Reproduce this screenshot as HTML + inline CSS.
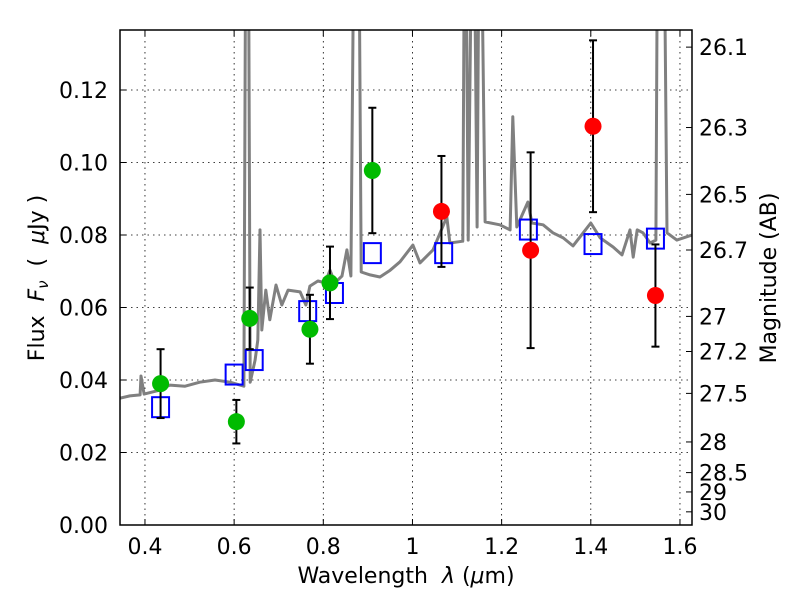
<!DOCTYPE html>
<html><head><meta charset="utf-8"><style>
body{margin:0;background:#fff}
</style></head><body>
<svg id="chart" width="800" height="600" xmlns="http://www.w3.org/2000/svg" style="position:absolute;left:0;top:0">
<defs><clipPath id="clip"><rect x="120" y="30" width="572" height="495"/></clipPath></defs>
<g id="grid"></g>
<g id="spec" clip-path="url(#clip)"></g>
<g id="marks" clip-path="url(#clip)"></g>
<g id="axes"></g>
<text x="406" y="583" text-anchor="middle" xml:space="preserve" style="font-family:'DejaVu Sans',sans-serif;font-size:22px;white-space:pre">Wavelength  <tspan font-style="italic">λ</tspan> (<tspan font-style="italic">μ</tspan>m)</text>
<text transform="translate(44,278) rotate(-90)" text-anchor="middle" xml:space="preserve" style="font-family:'DejaVu Sans',sans-serif;font-size:22px;white-space:pre">Flux  <tspan font-style="italic">F</tspan><tspan font-style="italic" style="font-size:15px" dy="4">ν</tspan><tspan dy="-4">  (  </tspan><tspan font-style="italic">μ</tspan>Jy )</text>
<text transform="translate(776,278) rotate(-90)" text-anchor="middle" style="font-family:'DejaVu Sans',sans-serif;font-size:22px">Magnitude (AB)</text>
</svg>
<script>
const specWl=[0.344,0.366,0.389,0.391,0.398,0.434,0.456,0.490,0.523,0.557,0.591,0.622,0.627,0.631,0.636,0.647,0.653,0.658,0.662,0.671,0.680,0.694,0.707,0.721,0.748,0.761,0.770,0.788,0.804,0.815,0.826,0.842,0.853,0.862,0.871,0.878,0.885,0.905,0.927,0.950,0.972,1.001,1.017,1.046,1.077,1.084,1.113,1.118,1.125,1.136,1.145,1.151,1.163,1.196,1.219,1.225,1.234,1.259,1.268,1.293,1.315,1.338,1.360,1.383,1.400,1.421,1.450,1.470,1.488,1.495,1.504,1.517,1.533,1.546,1.551,1.562,1.571,1.593,1.627];
const specFlux=[0.0350,0.0356,0.0359,0.0411,0.0361,0.0372,0.0386,0.0383,0.0394,0.0400,0.0394,0.0383,0.2,0.2,0.0394,0.0455,0.051,0.0814,0.0538,0.0648,0.0566,0.0662,0.0607,0.0648,0.0643,0.0607,0.0659,0.0673,0.0668,0.0703,0.0668,0.0687,0.0759,0.0687,0.2,0.2,0.0698,0.0690,0.0684,0.0703,0.0726,0.0772,0.0723,0.0759,0.0850,0.0778,0.0783,0.2,0.0786,0.2,0.0822,0.2,0.0836,0.0828,0.0814,0.1126,0.0822,0.0891,0.0833,0.0828,0.0806,0.0792,0.0770,0.0806,0.0833,0.0792,0.0767,0.0745,0.0814,0.0739,0.0814,0.0806,0.0778,0.0786,0.2,0.2,0.0806,0.0786,0.0800];
const greenWl=[0.435,0.605,0.635,0.77,0.815,0.91];
const greenFlux=[0.039,0.0285,0.057,0.054,0.0668,0.0978];
const greenErr=[0.0095,0.006,0.0085,0.0095,0.01,0.0173];
const redWl=[1.065,1.265,1.405,1.545];
const redFlux=[0.0865,0.0758,0.110,0.0633];
const redErr=[0.0153,0.027,0.0237,0.0141];
const modelWl=[0.435,0.6,0.645,0.765,0.825,0.91,1.07,1.26,1.405,1.545];
const modelFlux=[0.0325,0.0415,0.0455,0.059,0.064,0.075,0.075,0.0815,0.0775,0.079];
const xTicks=[0.4,0.6,0.8,1.0,1.2,1.4,1.6];
const xLabels=["0.4","0.6","0.8","1","1.2","1.4","1.6"];
const yTicks=[0,0.02,0.04,0.06,0.08,0.10,0.12];
const yLabels=["0.00","0.02","0.04","0.06","0.08","0.10","0.12"];
const magTicks=[26.1,26.3,26.5,26.7,27,27.2,27.5,28,28.5,29,30];
const magLabels=["26.1","26.3","26.5","26.7","27","27.2","27.5","28","28.5","29","30"];
const L=120,R=692,T=30,B=525,X0=0.344,X1=1.627,Y0=0,Y1=0.13655;
const sx=v=>L+(v-X0)/(X1-X0)*(R-L);
const sy=v=>B-(v-Y0)/(Y1-Y0)*(B-T);
const NS="http://www.w3.org/2000/svg";
const TS="font-family:'DejaVu Sans',sans-serif;font-size:22px";
function mk(tag,at,parent){const e=document.createElementNS(NS,tag);for(const k in at)e.setAttribute(k,at[k]);parent.appendChild(e);return e;}
const grid=document.getElementById('grid'),spec=document.getElementById('spec'),marks=document.getElementById('marks'),axes=document.getElementById('axes');
xTicks.forEach((v,i)=>{const g=mk('line',{x1:sx(v),x2:sx(v),y1:T,y2:B,stroke:'#000','stroke-width':0.8,'stroke-dasharray':'1.5,4'},grid);

mk('line',{x1:sx(v),x2:sx(v),y1:B,y2:B-6,stroke:'#000'},axes);mk('line',{x1:sx(v),x2:sx(v),y1:T,y2:T+6,stroke:'#000'},axes);
const t=mk('text',{x:sx(v),y:B+29,'text-anchor':'middle',style:TS},axes);t.textContent=xLabels[i];
});
yTicks.forEach((v,i)=>{const g=mk('line',{x1:L,x2:R,y1:sy(v),y2:sy(v),stroke:'#000','stroke-width':0.8,'stroke-dasharray':'1.5,4'},grid);

mk('line',{x1:L,x2:L+6,y1:sy(v),y2:sy(v),stroke:'#000'},axes);
const t=mk('text',{x:L-12,y:sy(v)+8,'text-anchor':'end',style:TS},axes);t.textContent=yLabels[i];
});
magTicks.forEach((m,i)=>{const y=sy(Math.pow(10,(23.9-m)/2.5));
mk('line',{x1:R,x2:R-6,y1:y,y2:y,stroke:'#000'},axes);
const t=mk('text',{x:R+7,y:y+8,'text-anchor':'start',style:TS},axes);t.textContent=magLabels[i];
});
const pts=specWl.map((w,i)=>sx(w).toFixed(1)+','+sy(specFlux[i]).toFixed(1)).join(' ');
const pl=mk('polyline',{points:pts,fill:'none',stroke:'#808080','stroke-width':3,'stroke-linejoin':'round'},spec);

function errbar(w,f,e){const x=sx(w),y1=sy(f+e),y2=sy(f-e);
mk('line',{x1:x,x2:x,y1:y1,y2:y2,stroke:'#000','stroke-width':2},marks);
mk('line',{x1:x-4,x2:x+4,y1:y1,y2:y1,stroke:'#000','stroke-width':2},marks);
mk('line',{x1:x-4,x2:x+4,y1:y2,y2:y2,stroke:'#000','stroke-width':2},marks);}
modelWl.forEach((w,i)=>{const r=mk('rect',{x:sx(w)-8.5,y:sy(modelFlux[i])-10,width:17,height:20,fill:'none',stroke:'#0000ff','stroke-width':2},marks);
});
greenWl.forEach((w,i)=>{errbar(w,greenFlux[i],greenErr[i]);const c=mk('circle',{cx:sx(w),cy:sy(greenFlux[i]),r:8.5,fill:'#00bb00'},marks);
});
redWl.forEach((w,i)=>{errbar(w,redFlux[i],redErr[i]);const c=mk('circle',{cx:sx(w),cy:sy(redFlux[i]),r:8.5,fill:'#ff0000'},marks);
});
const fr=mk('rect',{x:L,y:T,width:R-L,height:B-T,fill:'none',stroke:'#000','stroke-width':1.5},axes);

</script>
</body></html>
